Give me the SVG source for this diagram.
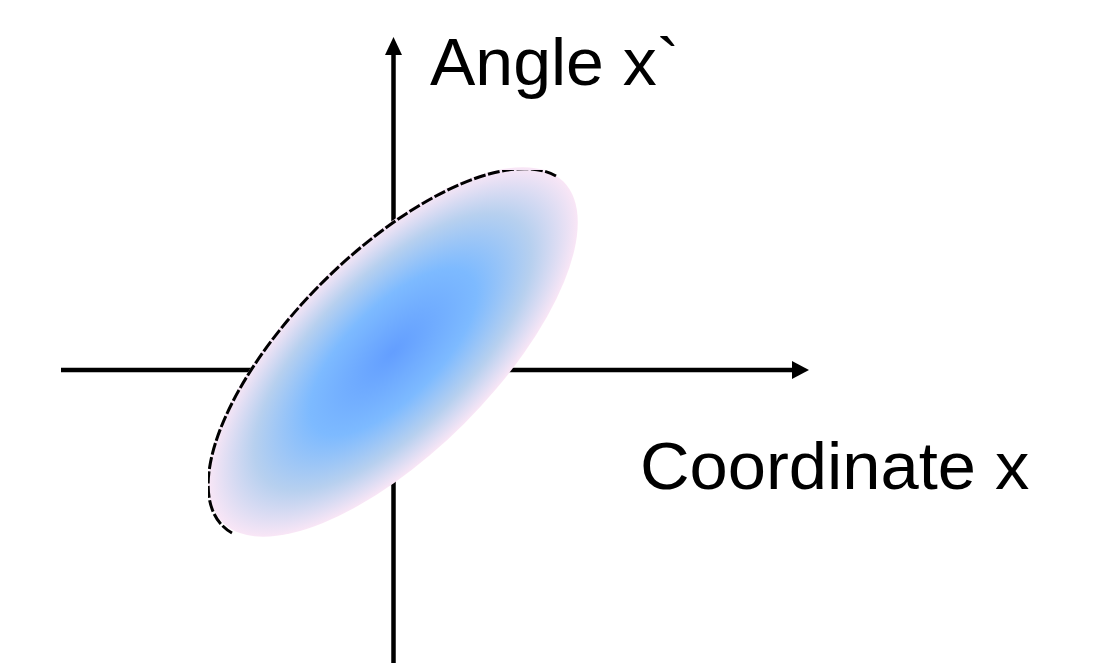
<svg xmlns="http://www.w3.org/2000/svg" width="1102" height="663" viewBox="0 0 1102 663">
<style>
.axis{stroke:#000;stroke-width:4.5;fill:none}
.lbl{font-family:"Liberation Sans",Arial,sans-serif;font-size:67px;fill:#000}
.outline{fill:none;stroke:#000;stroke-width:3;stroke-dasharray:12 2.5}
</style>
<defs>
<radialGradient id="g" cx="0.5" cy="0.5" r="0.5">
<stop offset="0" stop-color="#639eff"/>
<stop offset="0.45" stop-color="#7dbaff"/>
<stop offset="0.75" stop-color="#b7d0ef"/>
<stop offset="1" stop-color="#f9e6f6"/>
</radialGradient>
<clipPath id="bb"><rect x="208" y="170" width="372" height="370"/></clipPath>
</defs>
<g id="connectors">
<line class="axis" x1="393.5" y1="663" x2="393.5" y2="54"/>
<polygon points="393.5,37 385,55 402,55" fill="#000"/>
<line class="axis" x1="61" y1="370" x2="793" y2="370"/>
<polygon points="809,370 792,361 792,379" fill="#000"/>
</g>
<g id="ellipse">
<ellipse cx="393" cy="352" rx="241" ry="101" transform="rotate(-45 393 352)" fill="url(#g)"/>
<path class="outline" clip-path="url(#bb)" d="M232,533 A241,101 -45 0 1 556,176"/>
</g>
<g id="label-angle">
<text class="lbl" transform="translate(430,85) scale(1.015,1)">Angle x`</text>
</g>
<g id="label-coordinate">
<text class="lbl" transform="translate(640,489) scale(1.025,1)">Coordinate x</text>
</g>
</svg>
